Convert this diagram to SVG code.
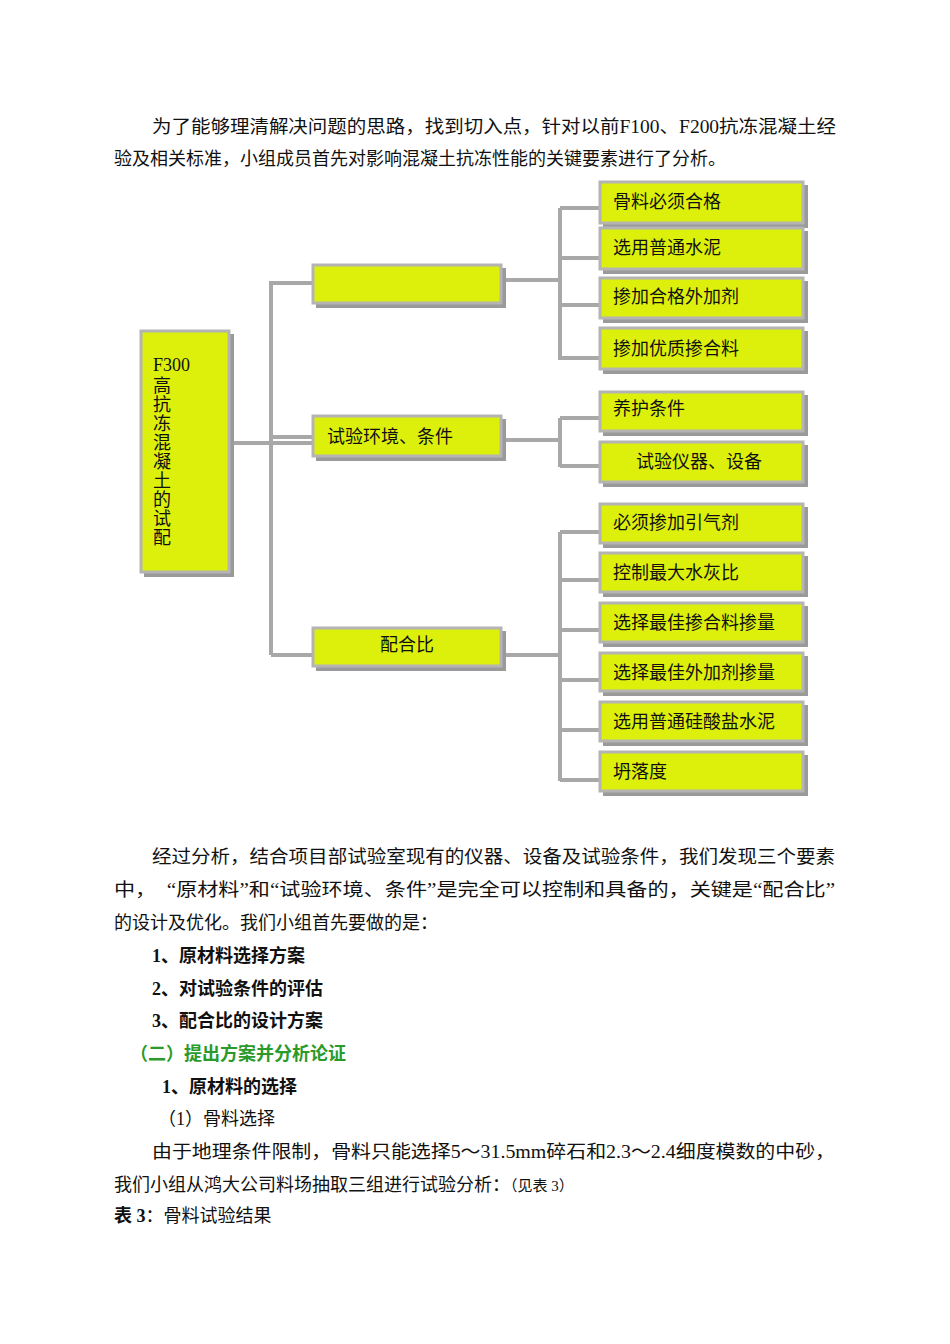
<svg xmlns="http://www.w3.org/2000/svg" width="950" height="1344" viewBox="0 0 950 1344">
<style>
text{font-family:"Liberation Serif","Noto Sans CJK SC",serif;font-size:18px;fill:#111}
.b{font-weight:bold}
.g{fill:#2a9a2a;font-weight:bold}
.box{fill:#dcf00c;stroke:#b4b4b4;stroke-width:3}
.sh{fill:#9a9a9a}
.c{stroke:#a8a8a8;stroke-width:4;fill:none}
.n{font-size:18px}
</style>
<rect width="950" height="1344" fill="#fff"/>
<text x="152" y="133" textLength="684" lengthAdjust="spacingAndGlyphs">为了能够理清解决问题的思路，找到切入点，针对以前F100、F200抗冻混凝土经</text>
<text x="114" y="165">验及相关标准，小组成员首先对影响混凝土抗冻性能的关键要素进行了分析。</text>
<g id="connectors">
<path class="c" d="M231 443H313M271 281V655M271 283H313M271 437H313M271 655H313"/>
<path class="c" d="M503 280H560M560 208V360M560 208H600M560 258H600M560 305H600M560 358H600"/>
<path class="c" d="M503 440H560M560 418V467M560 418H600M560 466H600"/>
<path class="c" d="M503 655H560M560 532V781M560 532H600M560 580H600M560 630H600M560 680H600M560 730H600M560 780H600"/>
</g>
<g id="root"><rect class="sh" x="144" y="334" width="90" height="243"/><rect class="box" x="141" y="331" width="88" height="241"/>
<text x="153" y="371">F300</text>
<g font-size="18"><text x="153" y="392">高</text><text x="153" y="411">抗</text><text x="153" y="430">冻</text><text x="153" y="449">混</text><text x="153" y="468">凝</text><text x="153" y="487">土</text><text x="153" y="506">的</text><text x="153" y="525">试</text><text x="153" y="544">配</text></g></g>
<g id="m1"><rect class="sh" x="316" y="268" width="190" height="40"/><rect class="box" x="313" y="265" width="188" height="38"/></g>
<g id="m2"><rect class="sh" x="316" y="419" width="190" height="42"/><rect class="box" x="313" y="416" width="188" height="40"/><text x="327" y="443">试验环境、条件</text></g>
<g id="m3"><rect class="sh" x="316" y="631" width="190" height="40"/><rect class="box" x="313" y="628" width="188" height="38"/><text x="407" y="651" text-anchor="middle">配合比</text></g>
<g id="r1"><rect class="sh" x="603" y="185" width="205" height="43"/><rect class="box" x="600" y="182" width="203" height="41"/><text x="613" y="208">骨料必须合格</text></g>
<g id="r2"><rect class="sh" x="603" y="231" width="205" height="43"/><rect class="box" x="600" y="228" width="203" height="41"/><text x="613" y="254">选用普通水泥</text></g>
<g id="r3"><rect class="sh" x="603" y="281" width="205" height="42"/><rect class="box" x="600" y="278" width="203" height="40"/><text x="613" y="303">掺加合格外加剂</text></g>
<g id="r4"><rect class="sh" x="603" y="331" width="205" height="43"/><rect class="box" x="600" y="328" width="203" height="41"/><text x="613" y="355">掺加优质掺合料</text></g>
<g id="r5"><rect class="sh" x="603" y="395" width="205" height="41"/><rect class="box" x="600" y="392" width="203" height="39"/><text x="613" y="415" font-size="16">养护条件</text></g>
<g id="r6"><rect class="sh" x="603" y="445" width="205" height="42"/><rect class="box" x="600" y="442" width="203" height="40"/><text x="636" y="468">试验仪器、设备</text></g>
<g id="r7"><rect class="sh" x="603" y="507" width="205" height="41"/><rect class="box" x="600" y="504" width="203" height="39"/><text x="613" y="529">必须掺加引气剂</text></g>
<g id="r8"><rect class="sh" x="603" y="556" width="205" height="41"/><rect class="box" x="600" y="553" width="203" height="39"/><text x="613" y="579">控制最大水灰比</text></g>
<g id="r9"><rect class="sh" x="603" y="606" width="205" height="41"/><rect class="box" x="600" y="603" width="203" height="39"/><text x="613" y="629">选择最佳掺合料掺量</text></g>
<g id="r10"><rect class="sh" x="603" y="656" width="205" height="40"/><rect class="box" x="600" y="653" width="203" height="38"/><text x="613" y="679">选择最佳外加剂掺量</text></g>
<g id="r11"><rect class="sh" x="603" y="705" width="205" height="41"/><rect class="box" x="600" y="702" width="203" height="39"/><text x="613" y="728">选用普通硅酸盐水泥</text></g>
<g id="r12"><rect class="sh" x="603" y="755" width="205" height="41"/><rect class="box" x="600" y="752" width="203" height="39"/><text x="613" y="778">坍落度</text></g>
<text x="152" y="863" textLength="683" lengthAdjust="spacingAndGlyphs">经过分析，结合项目部试验室现有的仪器、设备及试验条件，我们发现三个要素</text>
<text x="114" y="896" textLength="721" lengthAdjust="spacingAndGlyphs">中，　“原材料”和“试验环境、条件”是完全可以控制和具备的，关键是“配合比”</text>
<text x="114" y="929">的设计及优化。我们小组首先要做的是：</text>
<text class="b" x="152" y="962">1、原材料选择方案</text>
<text class="b" x="152" y="995">2、对试验条件的评估</text>
<text class="b" x="152" y="1027">3、配合比的设计方案</text>
<text class="g" x="130" y="1060">（二）提出方案并分析论证</text>
<text class="b" x="162" y="1093">1、原材料的选择</text>
<text x="158" y="1125">（1）骨料选择</text>
<text x="152" y="1158" textLength="683" lengthAdjust="spacingAndGlyphs">由于地理条件限制，骨料只能选择5～31.5mm碎石和2.3～2.4细度模数的中砂，</text>
<text x="114" y="1191">我们小组从鸿大公司料场抽取三组进行试验分析：<tspan font-size="15">（见表 3）</tspan></text>
<text x="114" y="1222" font-size="15"><tspan class="b">表 3</tspan>：骨料试验结果</text>
</svg>
